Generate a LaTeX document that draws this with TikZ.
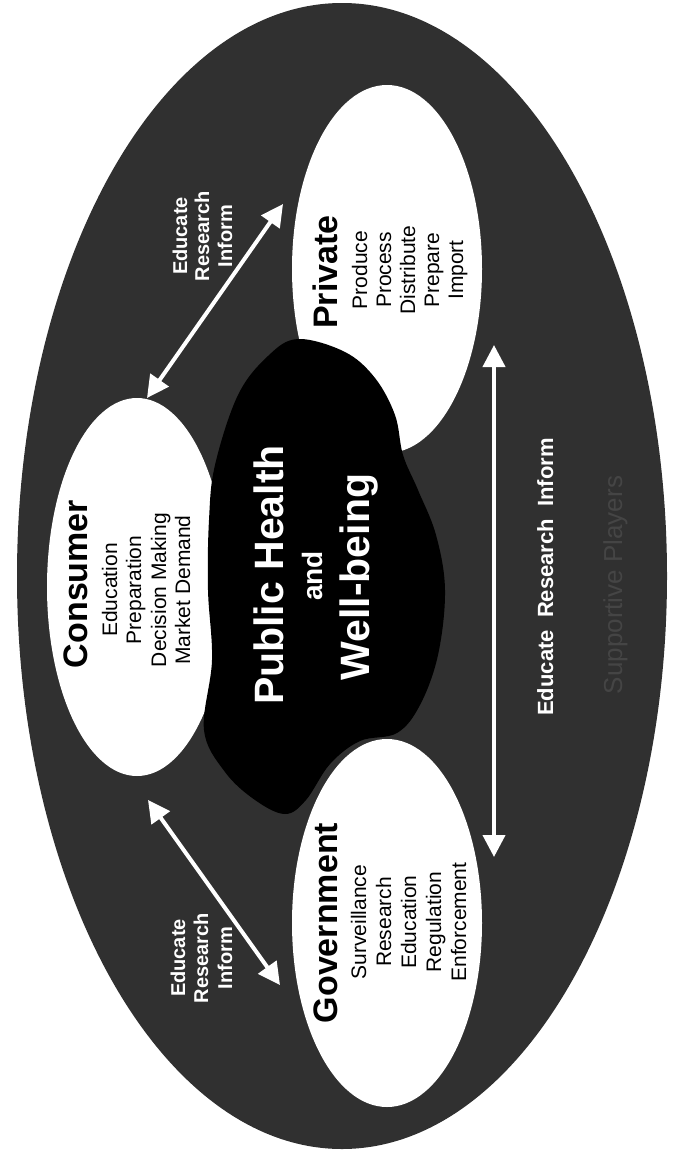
\documentclass[tikz,border=0pt]{standalone}
\usepackage{fontspec}
\setmainfont{Liberation Sans}
\usetikzlibrary{arrows.meta,shapes.geometric}
\begin{document}
\begin{tikzpicture}[x=1pt,y=-1pt,
  ringshape/.style={ellipse, fill=black!81, inner sep=0pt},
  whiteell/.style={ellipse, fill=white, inner sep=0pt},
  txt/.style={rotate=90, anchor=base, inner sep=0pt},
  ttl/.style={txt, font=\fontsize{34}{40}\selectfont\bfseries},
  itm/.style={txt, font=\fontsize{21}{24}\selectfont},
  lbl/.style={txt, text=white, font=\fontsize{20}{24}\selectfont\bfseries},
  center/.style={txt, text=white, font=\fontsize{41}{48}\selectfont\bfseries},
  link/.style={draw=white, line width=4pt,
    {Triangle[length=22pt,width=22pt]}-{Triangle[length=22pt,width=22pt]}},
]
\path[use as bounding box] (0,0) rectangle (683,1151);

% outer ring
\node[ringshape, minimum width=650pt, minimum height=1146pt] (outer) at (342,576) {};

% white ellipses
\node[whiteell, minimum width=180pt, minimum height=378pt] (cons) at (137,587) {};
\node[whiteell, minimum width=190pt, minimum height=368pt] (priv) at (387,269) {};
\node[whiteell, minimum width=190pt, minimum height=368pt] (gov) at (387,923) {};

% central blob
\fill[black] plot[smooth cycle, tension=0.6] coordinates {
  (298,339) (345,352) (375,378) (395,415) (403,455) (418,490)
  (436,535) (445,590) (438,655) (420,705) (397,733) (360,741)
  (330,764) (306,800) (285,814) (255,800) (225,772) (204,730)
  (212,660) (208,590) (209,520) (215,465) (238,395) (268,356)};

% connectors
\coordinate (consTop) at (147,398);
\coordinate (privL) at (283,204);
\coordinate (consBot) at (148,800);
\coordinate (govL) at (280,985);
\coordinate (privB) at (494,345);
\coordinate (govT) at (494,857);
\draw[link] (consTop) -- (privL);
\draw[link] (consBot) -- (govL);
\draw[link] (privB) -- (govT);

% consumer
\node[ttl] (tc) at (87,584) {Consumer};
\node[itm] (c1) at (117,590) {Education};
\node[itm] (c2) at (141,590) {Preparation};
\node[itm] (c3) at (166,590) {Decision Making};
\node[itm] (c4) at (190,590) {Market Demand};

% private
\node[ttl] (tp) at (337,272) {Private};
\node[itm] (p1) at (367,270) {Produce};
\node[itm] (p2) at (391,270) {Process};
\node[itm] (p3) at (415,270) {Distribute};
\node[itm] (p4) at (439,270) {Prepare};
\node[itm] (p5) at (463,270) {Import};

% government
\node[ttl] (tg) at (337,923) {Government};
\node[itm] (g1) at (366,922) {Surveillance};
\node[itm] (g2) at (391,922) {Research};
\node[itm] (g3) at (416,922) {Education};
\node[itm] (g4) at (441,922) {Regulation};
\node[itm] (g5) at (466,922) {Enforcement};

% centre
\node[center] (ph) at (283,575) {Public Health};
\node[txt, text=white, font=\fontsize{28}{32}\selectfont\bfseries] (and) at (322,576) {and};
\node[center] (wb) at (369,577) {Well-being};

% labels
\node[lbl] (l1a) at (187,236) {Educate};
\node[lbl] (l1b) at (209,236) {Research};
\node[lbl] (l1c) at (232,236) {Inform};
\node[lbl] (l2a) at (185,958) {Educate};
\node[lbl] (l2b) at (208,958) {Research};
\node[lbl] (l2c) at (232,958) {Inform};
\node[txt, text=white, font=\fontsize{22}{26}\selectfont\bfseries] (l3) at (553,577) {Educate\ \ Research\ \ Inform};

% faint caption
\node[txt, text=black!73, font=\fontsize{26}{30}\selectfont] (sp) at (622,585) {Supportive Players};
\end{tikzpicture}
\end{document}
